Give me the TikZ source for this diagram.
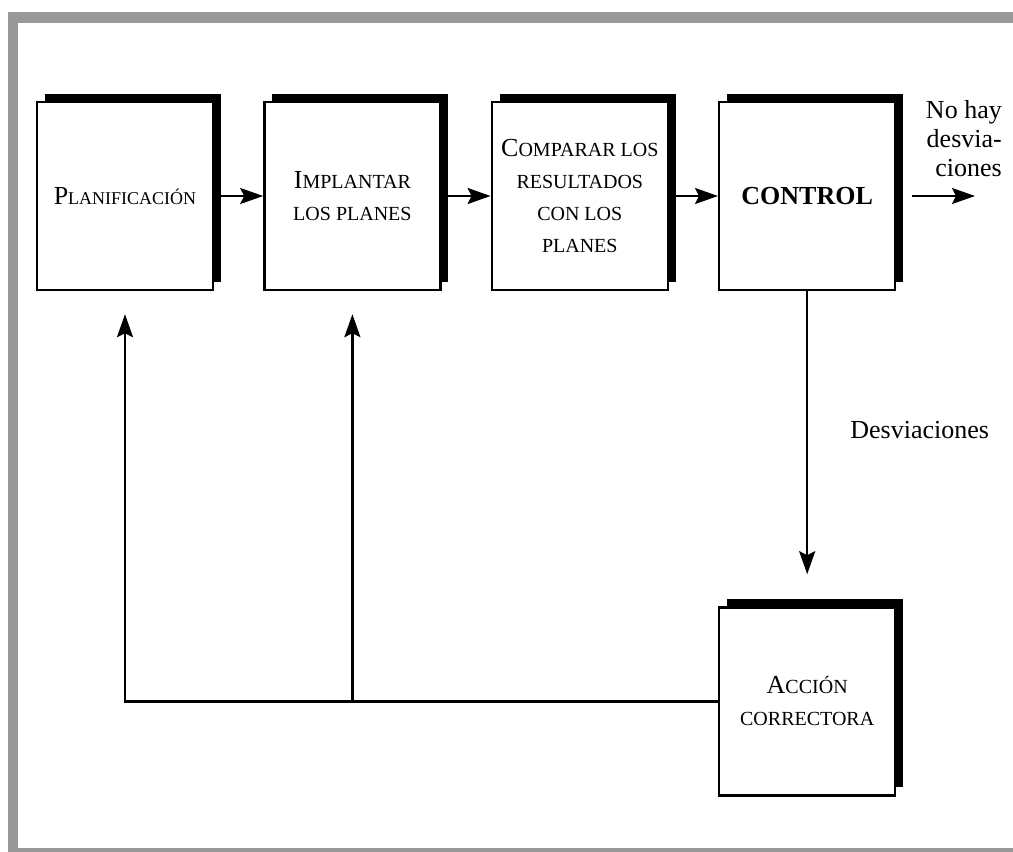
\documentclass[tikz,border=0pt]{standalone}
\usepackage{fontspec}
\setmainfont{Liberation Serif}
\usetikzlibrary{arrows.meta,positioning,shadows}
\definecolor{marco}{gray}{0.6}
\newcommand{\capl}[1]{{\fontsize{26}{32}\selectfont #1}}

\begin{document}
\begin{tikzpicture}[x=1pt,y=-1pt,-,node distance=49pt,line width=2.4pt,
                    >={Stealth[length=23pt,width=16pt,inset=4pt]},
                    box node/.style={rectangle,draw,fill=white,align=center,
                      minimum width=176pt,minimum height=188pt,
                      font=\fontsize{20}{32}\selectfont,
                      drop shadow={shadow xshift=8pt,shadow yshift=8pt,fill=black,opacity=1}}]

  \useasboundingbox (0,0) rectangle (1013,852);
  \fill[marco] (8,12) rectangle (1013,23);
  \fill[marco] (8,12) rectangle (18,852);
  \fill[marco] (8,848) rectangle (1013,852);

  \node[box node] (1) at (125,196) {\capl{P}{\fontsize{18}{32}\selectfont LANIFICACIÓN}};
  \node[box node] (2) [right=of 1] {\capl{I}MPLANTAR\\LOS PLANES};
  \node[box node] (3) [right=of 2] {\capl{C}OMPARAR LOS\\RESULTADOS\\CON LOS\\PLANES};
  \node[box node,font=\fontsize{26}{32}\selectfont\bfseries] (4) [right=of 3] {CONTROL};
  \node[box node] (5) [below=315pt of 4] {\capl{A}CCIÓN\\CORRECTORA};

  \coordinate (fin) at (975,196);
  \node[font=\fontsize{26}{29}\selectfont,align=right,inner sep=0pt,anchor=north east] (nohay) at (1003,99) {No hay\\desvia-\\ciones};

  \path[->,every node/.style={font=\fontsize{26}{29}\selectfont}]
    (1) edge (2)
    (2) edge (3)
    (3) edge (4)
    (4) edge [shorten <=16pt] (fin)
        edge [shorten >=32pt] node [pos=0.44,right=39pt,inner sep=3pt] {Desviaciones} (5);

  \draw[->,shorten >=23pt] (5.west) -| (1.south);
  \draw[->,shorten >=23pt] (2.south |- 5.west) -- (2.south);
\end{tikzpicture}
\end{document}
